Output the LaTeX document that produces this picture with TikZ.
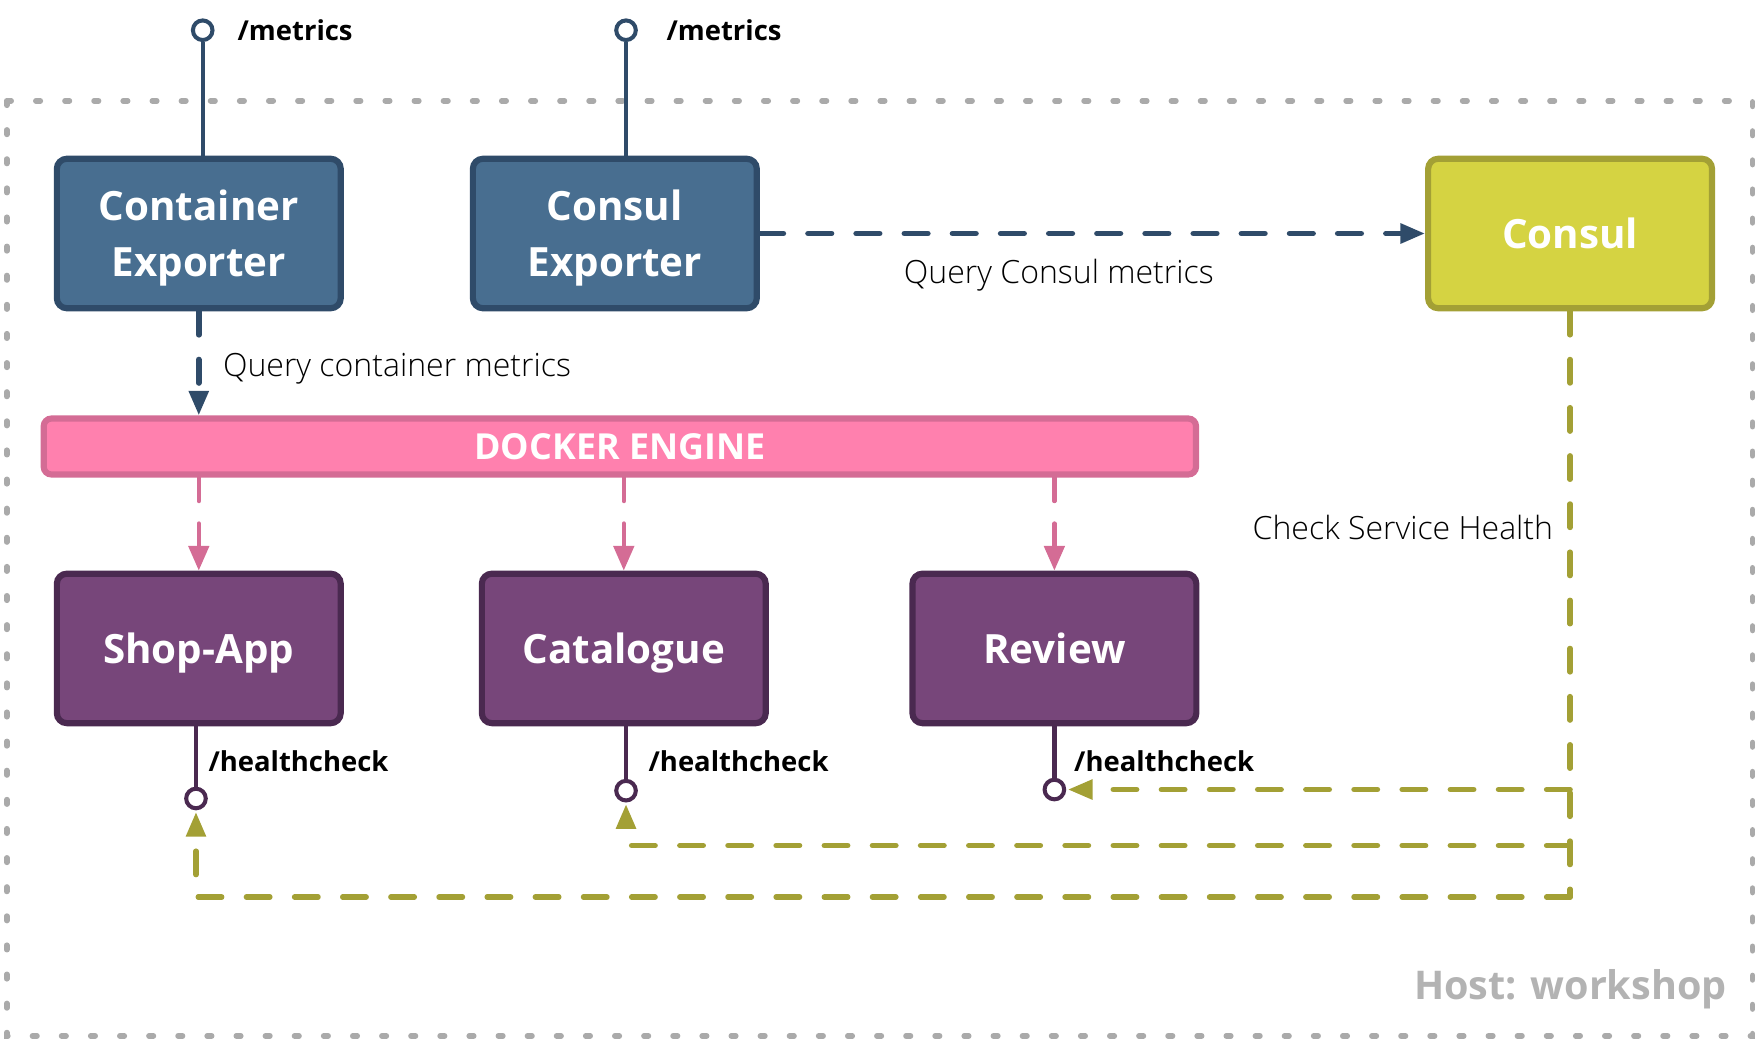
\documentclass[tikz,border=0pt]{standalone}
\usepackage{fontspec}
\setmainfont{Open Sans}
\IfFontExistsTF{Open Sans Light}{\newfontfamily\lightfont{Open Sans Light}}{\newfontfamily\lightfont{Open Sans}}
\usetikzlibrary{arrows.meta,calc}
\definecolor{bluefill}{HTML}{486E90}
\definecolor{blueline}{HTML}{2F4B69}
\definecolor{yfill}{HTML}{D5D342}
\definecolor{yline}{HTML}{A3A035}
\definecolor{pfill}{HTML}{FF80AE}
\definecolor{pline}{HTML}{D46C95}
\definecolor{vfill}{HTML}{77467A}
\definecolor{vline}{HTML}{4A2950}
\definecolor{framegray}{HTML}{AAAAAA}
\definecolor{hostgray}{HTML}{B3B3B3}
\begin{document}
\begin{tikzpicture}[x=1pt,y=-1pt,
  box/.style={draw, line width=5.5pt, rounded corners=9pt, minimum width=253.5pt,
    minimum height=133.5pt, inner sep=0pt, text=white, align=center, text depth=0pt,
    font=\bfseries\fontsize{36}{50}\selectfont},
  bluebox/.style={box, fill=bluefill, draw=blueline},
  ybox/.style={box, fill=yfill, draw=yline},
  vbox/.style={box, fill=vfill, draw=vline},
  pin/.style={circle, fill=white, line width=3.6pt, minimum size=17.5pt, inner sep=0pt},
  pinline/.style={line width=3.8pt},
  lbl/.style={font=\bfseries\fontsize{24.5}{28}\selectfont, anchor=west, inner sep=0pt},
  note/.style={font=\lightfont\fontsize{28.6}{33}\selectfont, inner sep=0pt},
  flow/.style={line width=5pt, line cap=round, dash pattern=on 21pt off 22pt,
    -{Triangle[length=22pt,width=17pt]}},
  pflow/.style={line width=3.8pt, line cap=round, dash pattern=on 21pt off 20pt,
    -{Triangle[length=22pt,width=18pt]}, pline},
  oline/.style={line width=4.8pt, line cap=round, dash pattern=on 21pt off 22pt, yline},
]
\useasboundingbox (0,0) rectangle (1568,929);
% host frame
\draw[framegray, line width=5pt, line cap=round, dash pattern=on 4pt off 22pt]
  (6,90) rectangle (1565,925);
\node[font=\bfseries\fontsize{35.3}{40}\selectfont, text=hostgray, anchor=east, inner sep=0pt]
  (host) at (1542,883) {Host: workshop};

% boxes
\node[bluebox] (ce) at (177.5,208.5) {Container\\Exporter};
\node[bluebox] (cx) at (549,208.5) {Consul\\Exporter};
\node[ybox] (co) at (1402,208.5) {Consul};
\node[draw=pline, fill=pfill, line width=5.5pt, rounded corners=7pt, minimum width=1029pt,
  minimum height=50pt, inner sep=0pt, text=white, text depth=0pt,
  font=\bfseries\fontsize{32}{36}\selectfont]
  (dk) at (553.5,398.7) {DOCKER ENGINE};
\node[vbox] (sa) at (177.5,579) {Shop-App};
\node[vbox] (ca) at (557,579) {Catalogue};
\node[vbox] (rv) at (941.5,579) {Review};

% metrics pins
\node[pin, draw=blueline] (m1) at (181,27) {};
\node[pin, draw=blueline] (m2) at (559,27) {};
\draw[pinline, blueline] (m1) -- (m1 |- ce.north);
\draw[pinline, blueline] (m2) -- (m2 |- cx.north);
\node[lbl] (m1l) at (212,27) {/metrics};
\node[lbl] (m2l) at (595,27) {/metrics};

% query arrows
\draw[flow, blueline] (ce.south) -- (ce.south |- dk.north);
\node[note, anchor=west] (qc) at (199,329) {Query container metrics};
\draw[flow, blueline] (cx.east) -- (co.west);
\node[note, anchor=west] (qs) at (807,246) {Query Consul metrics};

% docker to services
\draw[pflow] (dk.south -| sa.north) -- (sa.north);
\draw[pflow] (dk.south -| ca.north) -- (ca.north);
\draw[pflow] (dk.south -| rv.north) -- (rv.north);

% healthcheck pins
\node[pin, draw=vline] (hs) at (175,713) {};
\node[pin, draw=vline] (hc) at (559,706) {};
\node[pin, draw=vline] (hr) at (941.5,705) {};
\draw[pinline, vline] (hs |- sa.south) -- (hs);
\draw[pinline, vline] (hc |- ca.south) -- (hc);
\draw[pinline, vline] (hr |- rv.south) -- (hr);
\node[lbl] (hsl) at (186,680) {/healthcheck};
\node[lbl] (hcl) at (579,680) {/healthcheck};
\node[lbl] (hrl) at (959,680) {/healthcheck};

% health checks from consul
\coordinate (k1) at (co.south |- hr);
\coordinate (k2) at (1402,755);
\coordinate (k3) at (1402,801);
\draw[oline] (co.south) -- (k3);
\node[note, anchor=east] (csh) at (1387,471) {Check Service Health};
\draw[oline, -{Triangle[length=22pt,width=17pt]}, shorten >=1.5pt] (k1) -- (hr);
\draw[oline, -{Triangle[length=22pt,width=17pt]}, shorten >=1.5pt] (k2) -- (k2 -| hc) -- (hc);
\draw[oline, -{Triangle[length=22pt,width=17pt]}, shorten >=1.5pt] (k3) -- (k3 -| hs) -- (hs);
\end{tikzpicture}
\end{document}
